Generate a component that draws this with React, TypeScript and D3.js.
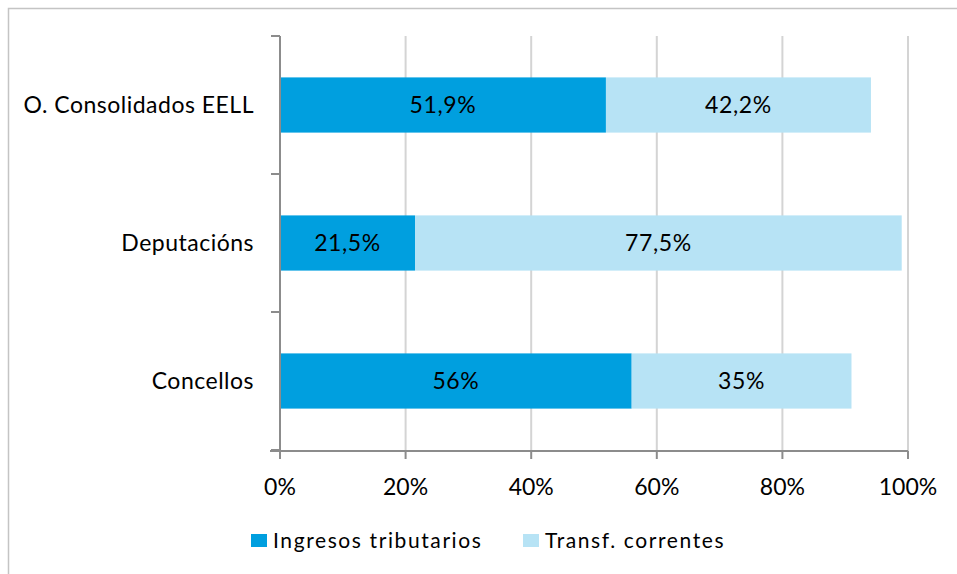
import React from "react";
import * as d3 from "d3";

const categories = ["O. Consolidados EELL", "Deputacións", "Concellos"];
const tributarios = [51.9, 21.5, 56];
const transferencias = [42.2, 77.5, 35];
const tributariosLabels = ["51,9%", "21,5%", "56%"];
const transferenciasLabels = ["42,2%", "77,5%", "35%"];
const seriesNames = ["Ingresos tributarios", "Transf. correntes"];
const xTicks = [0, 20, 40, 60, 80, 100];

const W = 957;
const H = 574;
const FONT = "Lato, 'Open Sans', sans-serif";
const FS = 23;
const C1 = "#009fdf";
const C2 = "#b7e3f5";

export default function App() {
  const x = d3.scaleLinear().domain([0, 100]).range([280, 908]);
  const y = d3.scaleBand().domain(categories).range([36, 450]).paddingInner(0.6).paddingOuter(0.3);
  const bw = y.bandwidth();
  const step = y.step();
  const boundaries = [36, ...categories.map((c) => (y(c) as number) - (step - bw) / 2 + step)];

  return (
    <svg width={W} height={H} style={{ position: "absolute", left: 0, top: 0 }}>
      <rect x={0} y={0} width={W} height={H} fill="#fff" />
      <rect x={8.5} y={8.5} width={W + 20} height={H + 20} fill="none" stroke="#c4c4c4" strokeWidth={1.5} />
      {xTicks.slice(1).map((t) => (
        <line key={t} x1={x(t)} x2={x(t)} y1={36} y2={451} stroke="#d4d4d4" strokeWidth={2} />
      ))}
      {categories.map((c, i) => {
        const y0 = y(c) as number;
        const a = tributarios[i];
        const b = transferencias[i];
        return (
          <g key={c}>
            <rect x={x(0)} y={y0} width={x(a) - x(0)} height={bw} fill={C1} />
            <rect x={x(a)} y={y0} width={x(a + b) - x(a)} height={bw} fill={C2} />
            <text x={(x(0) + x(a)) / 2} y={y0 + bw / 2} dy="0.35em" textAnchor="middle" fontFamily={FONT} fontSize={FS} letterSpacing={0.6} fill="#000">
              {tributariosLabels[i]}
            </text>
            <text x={(x(a) + x(a + b)) / 2} y={y0 + bw / 2} dy="0.35em" textAnchor="middle" fontFamily={FONT} fontSize={FS} letterSpacing={0.6} fill="#000">
              {transferenciasLabels[i]}
            </text>
            <text x={254} y={y0 + bw / 2} dy="0.35em" textAnchor="end" fontFamily={FONT} fontSize={FS} letterSpacing={0.5} fill="#000">
              {c}
            </text>
          </g>
        );
      })}
      {/* axes */}
      <line x1={280} x2={280} y1={36} y2={451} stroke="#8c8c8c" strokeWidth={2} />
      {boundaries.map((b, i) => (
        <line key={i} x1={271} x2={280} y1={b} y2={b} stroke="#8c8c8c" strokeWidth={2} />
      ))}
      <line x1={270} x2={908} y1={451} y2={451} stroke="#8c8c8c" strokeWidth={2} />
      {xTicks.map((t) => (
        <g key={t}>
          <line x1={x(t)} x2={x(t)} y1={451} y2={459} stroke="#8c8c8c" strokeWidth={2} />
          <text x={x(t)} y={495} textAnchor="middle" fontFamily={FONT} fontSize={FS} fill="#000">
            {t + "%"}
          </text>
        </g>
      ))}
      {/* legend */}
      <rect x={251} y={534} width={16} height={13} fill={C1} />
      <text x={273} y={548} fontFamily={FONT} fontSize={21} letterSpacing={1.6} fill="#000">{seriesNames[0]}</text>
      <rect x={523} y={534} width={16} height={13} fill={C2} />
      <text x={545} y={548} fontFamily={FONT} fontSize={21} letterSpacing={1.6} fill="#000">{seriesNames[1]}</text>
    </svg>
  );
}
